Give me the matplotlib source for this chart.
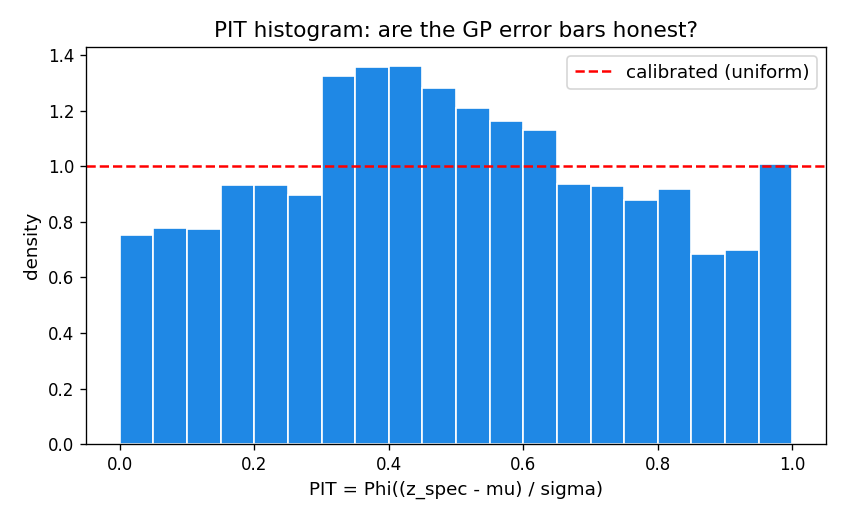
import numpy as np
import matplotlib
matplotlib.use("Agg")
import matplotlib.pyplot as plt

bin_edges = np.linspace(0, 1, 21)
density = [0.752, 0.777, 0.774, 0.933, 0.933, 0.897, 1.326, 1.359, 1.362, 1.283,
           1.211, 1.164, 1.131, 0.936, 0.929, 0.878, 0.918, 0.683, 0.699, 1.007]

fig = plt.figure(figsize=(845 / 120, 520 / 120), dpi=120)
ax = fig.add_axes([0.102, 0.146, 0.8755, 0.7636])
ax.bar(bin_edges[:-1], density, width=np.diff(bin_edges), align="edge",
       color="#1f88e5", edgecolor="white", linewidth=1)
ax.axhline(1.0, color="red", linestyle="--", linewidth=1.5, label="calibrated (uniform)")
ax.set_title("PIT histogram: are the GP error bars honest?", fontsize=13)
ax.set_xlabel("PIT = Phi((z_spec - mu) / sigma)", fontsize=11)
ax.set_ylabel("density", fontsize=11)
ax.tick_params(labelsize=10)
ax.legend(fontsize=11, loc="upper right")
fig.savefig("out.png", dpi=120)
